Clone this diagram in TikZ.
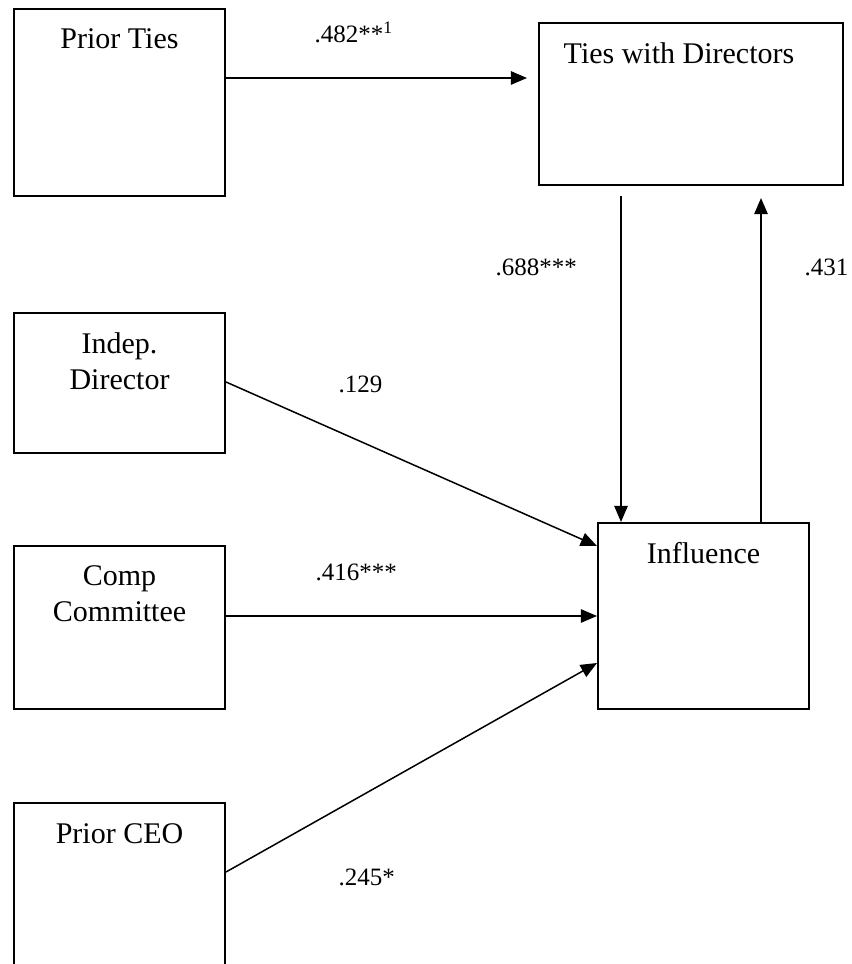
\documentclass[tikz,border=0pt]{standalone}
\usepackage{fontspec}
\setmainfont{Liberation Serif}
\usetikzlibrary{positioning,arrows.meta,calc}
\tikzset{
  varbox/.style={rectangle,draw=black,line width=0.8pt,anchor=north west,inner sep=0pt,minimum width=84.4pt},
  boxtext/.style={anchor=north,inner sep=0pt,yshift=-8pt,align=center,font=\fontsize{12}{14.4}\selectfont},
  coef/.style={anchor=base west,inner sep=0pt,font=\fontsize{10}{12}\selectfont},
  link/.style={-{Triangle[length=6.5pt,width=5.4pt]},line width=0.6pt}
}
\begin{document}
\begin{tikzpicture}[x=0.4pt,y=-0.4pt]
  \useasboundingbox (0,0) rectangle (851,964);
  \clip (0,0) rectangle (851,964);

  % boxes
  \node[varbox,minimum height=74.8pt,label={[boxtext]north:Prior Ties}] (pties) at (13,8) {};
  \node[varbox,minimum width=121.6pt,minimum height=64.8pt,label={[boxtext,xshift=-4.8pt]north:Ties with Directors}] (tdir) at (538,22) {};
  \node[varbox,minimum height=56pt,label={[boxtext]north:Indep.\\Director}] (idir) at (13,312) {};
  \node[varbox,minimum height=65.2pt,label={[boxtext]north:Comp\\Committee}] (comp) at (13,545) {};
  \node[varbox,minimum height=70pt,label={[boxtext,yshift=-0.4pt]north:Prior CEO}] (pceo) at (13,802) {};
  \node[varbox,minimum height=74.4pt,label={[boxtext]north:Influence}] (infl) at (597,522) {};

  % paths
  \draw[link,shorten >=4.4pt] ($(pties.north east)+(0,70)$) -- ($(tdir.north west)+(0,56)$);
  \draw[link,shorten <=4pt] ($(tdir.south west)+(83,0)$) -- ($(infl.north west)+(24,0)$);
  \draw[link,shorten >=4.8pt] ($(infl.north west)+(164,0)$) -- ($(tdir.south west)+(223,0)$);
  \draw[link] ($(idir.north east)+(0,70)$) -- ($(infl.north west)+(0,24)$);
  \draw[link] ($(comp.north east)+(0,71)$) -- ($(infl.north west)+(0,94)$);
  \draw[link] ($(pceo.north east)+(0,70)$) -- ($(infl.north west)+(0,141)$);

  % coefficients
  \node[coef] (c482) at (314,43) {.482**\textsuperscript{1}};
  \node[coef] (c688) at (495,276) {.688***};
  \node[coef] (c431) at (804,276) {.431};
  \node[coef] (c129) at (338,393) {.129};
  \node[coef] (c416) at (315,580) {.416***};
  \node[coef] (c245) at (338,885) {.245*};
\end{tikzpicture}
\end{document}
